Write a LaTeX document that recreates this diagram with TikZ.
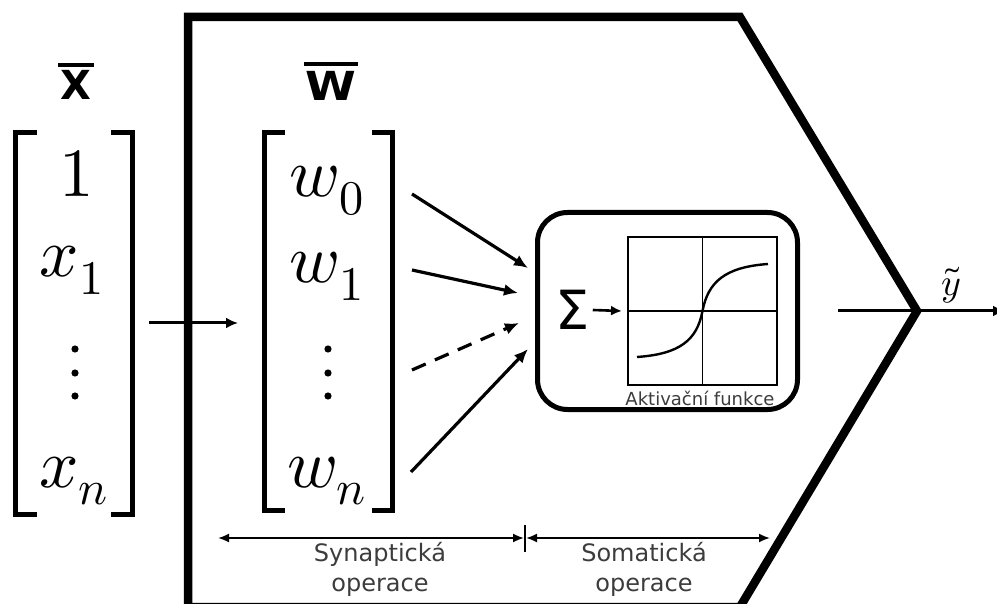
\documentclass[tikz,border=0pt]{standalone}
\usepackage{fontspec}
\usepackage{unicode-math}
\setmathfont{Latin Modern Math}
\newfontfamily\dejavu{DejaVu Sans}
\usetikzlibrary{arrows.meta}
\definecolor{labelgray}{HTML}{3C3C3C}
\tikzset{
  mathentry/.style={anchor=base, inner sep=0pt, font=\fontsize{69}{69}\selectfont},
  vecdot/.style={fill=black},
  bracket/.style={line width=5pt, line join=miter},
  barlabel/.style={inner sep=0pt, font=\dejavu\bfseries\fontsize{40}{40}\selectfont},
  overbar/.style={line width=4pt},
  weight/.style={line width=3.2pt, -{Latex[length=14pt,width=12pt]}},
  flow/.style={line width=3pt, -{Latex[length=12pt,width=11pt]}},
  dimline/.style={line width=1.8pt, {Latex[length=11pt,width=9pt]}-{Latex[length=11pt,width=9pt]}},
  opnote/.style={align=center, inner sep=0pt, text=labelgray, font=\dejavu\fontsize{24}{30}\selectfont},
  neuron/.style={line width=8.5pt, line join=miter},
  soma/.style={draw, line width=5pt, rounded corners=30pt, minimum width=260pt, minimum height=197pt, inner sep=0pt},
  plotframe/.style={draw, line width=2pt, minimum width=149pt, minimum height=147pt, inner sep=0pt},
}
\begin{document}
\begin{tikzpicture}[x=1pt,y=-1pt]
\useasboundingbox (0,0) rectangle (997,604);

% neuron outline
\draw[neuron] (188,612) -- (188,17) -- (740,17) -- (917,311) -- (740,607) -- (188,607);

% input vector
\draw[bracket] (37,132.5) -- (15.5,132.5) -- (15.5,514.5) -- (37,514.5);
\draw[bracket] (111,132.5) -- (132.5,132.5) -- (132.5,514.5) -- (111,514.5);
\node[mathentry] (x0) at (77,197) {$1$};
\node[mathentry] (x1) at (72,277) {$x_1$};
\fill[vecdot] (75,349) circle (3.6pt) (75,373) circle (3.6pt) (75,396) circle (3.6pt);
\node[mathentry] (xn) at (74,487) {$x_n$};
\node[barlabel] (xlab) at (76,85) {X};
\draw[overbar] ([xshift=-2pt,yshift=5pt]xlab.north west) -- ([xshift=2pt,yshift=5pt]xlab.north east);

% weight vector
\draw[bracket] (285,132.5) -- (264.5,132.5) -- (264.5,510.5) -- (285,510.5);
\draw[bracket] (372,132.5) -- (392.5,132.5) -- (392.5,510.5) -- (372,510.5);
\node[mathentry] (w0) at (327,197) {$w_0$};
\node[mathentry] (w1) at (327,283) {$w_1$};
\fill[vecdot] (328,349) circle (3.6pt) (328,373) circle (3.6pt) (328,396) circle (3.6pt);
\node[mathentry] (wn) at (327,487) {$w_n$};
\node[barlabel] (wlab) at (331,86) {\scalebox{1.15}[1]{W}};
\draw[overbar] ([xshift=-1pt,yshift=7pt]wlab.north west) -- ([xshift=1pt,yshift=7pt]wlab.north east);

% input into the neuron
\coordinate (inA) at (149,323);
\coordinate (inB) at (238,323);
\draw[flow] (inA) -- (inB);

% weighted inputs
\coordinate (a0) at (412,194);  \coordinate (b0) at (528,268);
\coordinate (a1) at (412,270);  \coordinate (b1) at (518,293);
\coordinate (a2) at (412,370);  \coordinate (b2) at (519,323);
\coordinate (an) at (411,472);  \coordinate (bn) at (528,349);
\draw[weight] (a0) -- (b0);
\draw[weight] (a1) -- (b1);
\draw[weight, dash pattern=on 15pt off 10pt] (a2) -- (b2);
\draw[weight] (an) -- (bn);

% soma: summation and activation
\node[soma] (body) at (667.5,311) {};
\node[inner sep=0pt, font=\dejavu\fontsize{54}{54}\selectfont] (sum) at (572.5,310) {Σ};
\node[plotframe] (plot) at (702.5,311) {};
\draw[line width=1.2pt] (plot.north) -- (plot.south);
\draw[line width=1.2pt] (plot.west) -- (plot.east);
\draw[line width=2.4pt] (637,357) .. controls (680,354) and (697,340) .. (702.5,311)
  .. controls (708,282) and (725,267) .. (768,264);
\draw[line width=2.6pt, -{Latex[length=11pt,width=10pt]}] (sum.east) ++(3pt,0) -- ([xshift=-5pt]plot.west);
\node[anchor=base, inner sep=0pt, text=labelgray, font=\dejavu\fontsize{18}{18}\selectfont] (actlab) at (700,405) {Aktivační funkce};

% output
\coordinate (outA) at (838,311);
\coordinate (outB) at (1005,311);
\draw[line width=3pt, -{Latex[length=12pt,width=11pt]}] (outA) -- (outB);
\node[inner sep=0pt, font=\fontsize{38}{38}\selectfont] (ylab) at (951,285) {$\tilde{y}$};

% operation spans
\coordinate (dimL) at (218,538);
\coordinate (dimM) at (525,538);
\coordinate (dimR) at (770,538);
\draw[line width=1.5pt] (525,525) -- (525,552);
\draw[dimline] (dimL) -- ([xshift=-1pt]dimM);
\draw[dimline] ([xshift=1pt]dimM) -- (dimR);
\node[opnote] (synop) at (380,569) {Synaptická\\operace};
\node[opnote] (somop) at (644,569) {Somatická\\operace};
\end{tikzpicture}
\end{document}
